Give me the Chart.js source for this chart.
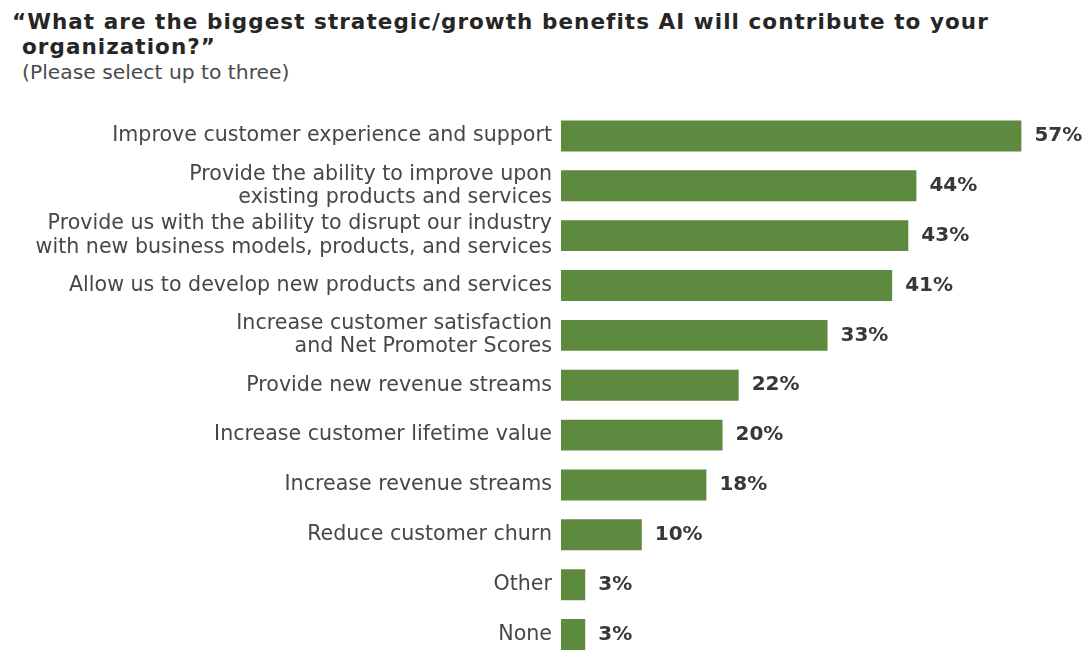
<!DOCTYPE html>
<html>
<head>
<meta charset="utf-8">
<title>AI strategic benefits</title>
<script src="https://cdn.jsdelivr.net/npm/chart.js@4"></script>
<style>
  html, body { margin: 0; padding: 0; background: #fff; overflow: hidden; }
  #wrap { position: relative; width: 1091px; height: 680px; }
  #benefitsChart { position: absolute; left: 0; top: 0; }
  .head { position: absolute; white-space: nowrap; font-family: "DejaVu Sans", sans-serif; line-height: 1; }
  .q { font-weight: bold; font-size: 21.5px; letter-spacing: 1.05px; color: #262626; }
  .sub { font-size: 20.3px; color: #4a4a4a; }
</style>
</head>
<body>
<div id="wrap">
  <div class="head q" style="left:12px; top:11px;">“What are the biggest strategic/growth benefits AI will contribute to your</div>
  <div class="head q" style="left:22px; top:36px;">organization?”</div>
  <div class="head sub" style="left:22px; top:62px;">(Please select up to three)</div>
  <canvas id="benefitsChart" width="1091" height="680"></canvas>
</div>
<script>
const categories = [
  ['Improve customer experience and support'],
  ['Provide the ability to improve upon', 'existing products and services'],
  ['Provide us with the ability to disrupt our industry', 'with new business models, products, and services'],
  ['Allow us to develop new products and services'],
  ['Increase customer satisfaction', 'and Net Promoter Scores'],
  ['Provide new revenue streams'],
  ['Increase customer lifetime value'],
  ['Increase revenue streams'],
  ['Reduce customer churn'],
  ['Other'],
  ['None']
];
const shares = [57, 44, 43, 41, 33, 22, 20, 18, 10, 3, 3];

const barGreen = '#5e8a40';
const labelFont = '"DejaVu Sans", sans-serif';

// percentage printed just past the end of each bar
const valueLabels = {
  id: 'valueLabels',
  afterDatasetsDraw(chart) {
    const ctx = chart.ctx;
    const meta = chart.getDatasetMeta(0);
    ctx.save();
    ctx.font = 'bold 20px ' + labelFont;
    ctx.fillStyle = '#383838';
    ctx.textAlign = 'left';
    ctx.textBaseline = 'middle';
    meta.data.forEach((bar, i) => {
      ctx.fillText(shares[i] + '%', bar.x + 13, bar.y);
    });
    ctx.restore();
  }
};

new Chart(document.getElementById('benefitsChart'), {
  type: 'bar',
  data: {
    labels: categories,
    datasets: [{
      data: shares,
      backgroundColor: barGreen,
      borderWidth: 0,
      barPercentage: 0.62,
      categoryPercentage: 1
    }]
  },
  options: {
    indexAxis: 'y',
    responsive: false,
    animation: false,
    layout: { padding: { top: 111, bottom: 18, left: 0, right: 5 } },
    plugins: {
      legend: { display: false },
      tooltip: { enabled: false }
    },
    scales: {
      x: {
        display: false,
        min: 0,
        max: 65
      },
      y: {
        afterFit(scale) { scale.width = 561; },
        grid: { display: false, drawTicks: false },
        border: { display: false },
        ticks: {
          autoSkip: false,
          padding: 9,
          color: '#474747',
          font: { family: labelFont, size: 20.6, lineHeight: 1.12 }
        }
      }
    }
  },
  plugins: [valueLabels]
});
</script>
</body>
</html>
